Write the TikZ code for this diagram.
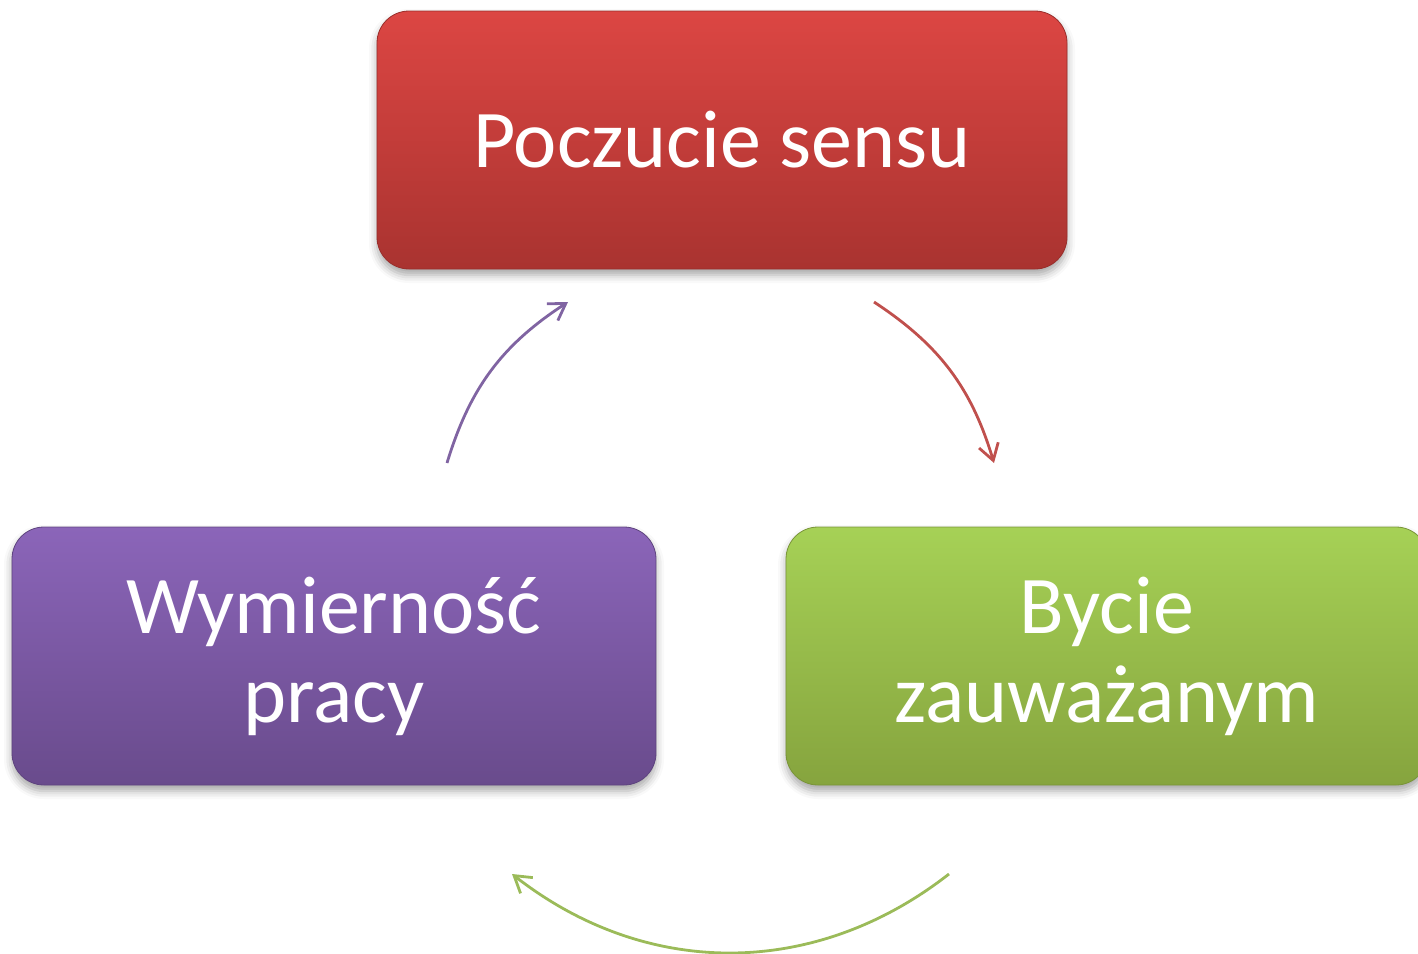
\documentclass[tikz,border=0pt]{standalone}
\usepackage{fontspec}
\setmainfont{Carlito}
\usetikzlibrary{arrows.meta,shadows.blur}
\definecolor{redtop}{HTML}{DC4643}
\definecolor{redbot}{HTML}{A93330}
\definecolor{purtop}{HTML}{8B65B9}
\definecolor{purbot}{HTML}{694B8C}
\definecolor{grntop}{HTML}{A6D156}
\definecolor{grnbot}{HTML}{86A43E}
\definecolor{redarr}{HTML}{C0504D}
\definecolor{purarr}{HTML}{8064A2}
\definecolor{grnarr}{HTML}{9BBB59}
\begin{document}
\begin{tikzpicture}[x=0.5pt,y=-0.5pt,
  box/.style={rounded corners=16pt, minimum height=129pt, align=center,
    text=white, font=\fontsize{41}{44.5}\selectfont, inner sep=0pt,
    blur shadow={shadow xshift=0pt, shadow yshift=-3pt, shadow blur radius=4pt, shadow opacity=35}},
  cyc/.style={line width=1.4pt, -{Straight Barb[length=8pt,width=10pt]}}
]
\useasboundingbox (0,0) rectangle (1418,953);
\node[box, minimum width=345pt, top color=redtop, bottom color=redbot, draw=redbot!90!black, line width=0.4pt] (sens) at (722,140) {Poczucie sensu};
\node[box, minimum width=322pt, top color=purtop, bottom color=purbot, draw=purbot!90!black, line width=0.4pt] (wym) at (334,656) {Wymierność\\pracy};
\node[box, minimum width=321pt, top color=grntop, bottom color=grnbot, draw=grnbot!90!black, line width=0.4pt] (byc) at (1107,656) {Bycie\\zauważanym};
\coordinate (pa) at (447,463);
\coordinate (pb) at (568,302);
\coordinate (ra) at (874,302);
\coordinate (rb) at (994,463);
\coordinate (ga) at (949,874);
\coordinate (gb) at (512,874);
\draw[cyc, draw=purarr] (pa) to[bend left=20] (pb);
\draw[cyc, draw=redarr] (ra) to[bend left=20] (rb);
\draw[cyc, draw=grnarr] (ga) to[bend left=38] (gb);
\end{tikzpicture}
\end{document}
